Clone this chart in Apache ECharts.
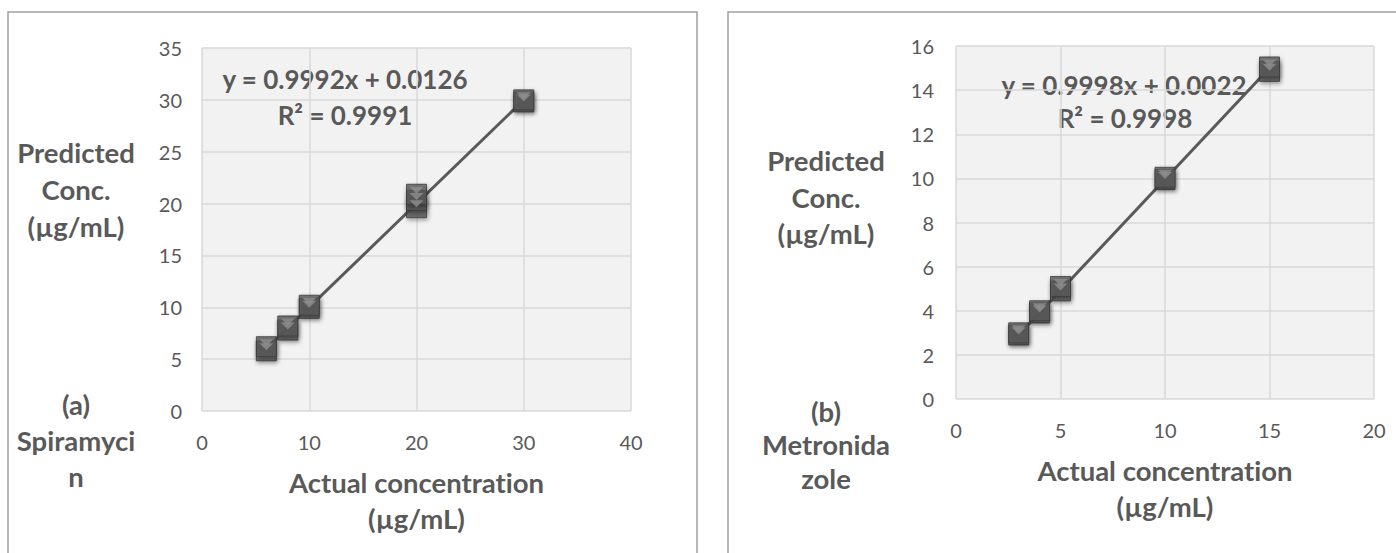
<!DOCTYPE html>
<html>
<head>
<meta charset="utf-8">
<script src="https://cdn.jsdelivr.net/npm/echarts@6/dist/echarts.min.js"></script>
<style>
html,body{margin:0;padding:0;background:#fff;}
#chart{width:1396px;height:553px;}
#chart text, #chart svg{font-variant-ligatures:none; font-feature-settings:"liga" 0, "clig" 0;}
</style>
</head>
<body>
<div id="chart"></div>
<script>
// ---- data ----
const spiraActual    = [6, 6, 8, 8, 10, 10, 20, 20, 20, 30, 30];
const spiraPredicted = [5.8, 6.2, 7.8, 8.2, 9.9, 10.2, 19.6, 20.3, 20.9, 29.8, 30.0];
const spiraTrendX = [6, 30];
const spiraTrendY = [6.008, 29.989];
const spiraEquation = ['y = 0.9992x + 0.0126', 'R² = 0.9991'];

const metroActual    = [3, 3, 4, 4, 5, 5, 10, 10, 15, 15];
const metroPredicted = [2.9, 3.0, 3.9, 4.0, 4.9, 5.1, 9.95, 10.05, 14.85, 15.05];
const metroTrendX = [3, 15];
const metroTrendY = [2.902, 14.999];
const metroEquation = ['y = 0.9998x + 0.0022', 'R² = 0.9998'];

const yTitle = ['Predicted', 'Conc.', '(µg/mL)'];
const xTitle = 'Actual concentration\n(µg/mL)';
const panelA = ['(a)', 'Spiramyci', 'n'];
const panelB = ['(b)', 'Metronida', 'zole'];

// ---- styles ----
const FONT = 'Lato, "Open Sans", sans-serif';
const TXT = '#595959';
const zip = (a, b) => a.map((v, i) => [v, b[i]]);

function axisCommon(min, max, interval) {
  return {
    type: 'value', min: min, max: max, interval: interval,
    axisLine: {show: false}, axisTick: {show: false},
    splitLine: {show: true, lineStyle: {color: '#d9d9d9', width: 1.5}},
    axisLabel: {color: TXT, fontFamily: FONT, fontSize: 20}
  };
}

function markerSeries(idx, data) {
  return [
    {
      type: 'scatter', xAxisIndex: idx, yAxisIndex: idx, data: data,
      symbol: 'rect', symbolSize: 20, z: 3,
      itemStyle: {color: '#585858', borderColor: '#3c3c3c', borderWidth: 1,
        shadowBlur: 4, shadowColor: 'rgba(0,0,0,0.45)', shadowOffsetX: 1, shadowOffsetY: 2}
    },
    {
      type: 'scatter', xAxisIndex: idx, yAxisIndex: idx, data: data,
      symbol: 'triangle', symbolRotate: 180, symbolSize: [14, 7], symbolOffset: [0, -4], z: 4,
      itemStyle: {color: '#8e8e8e'}, silent: true
    }
  ];
}

function trendSeries(idx, xs, ys) {
  return {
    type: 'line', xAxisIndex: idx, yAxisIndex: idx, data: zip(xs, ys),
    symbol: 'none', z: 2, lineStyle: {color: '#595959', width: 3}
  };
}

function textAt(t, cx, cy, size) {
  return {
    type: 'text', x: cx, y: cy,
    style: {text: t, fill: TXT, font: 'bold ' + size + 'px ' + FONT, align: 'center', verticalAlign: 'middle'}
  };
}

const graphics = [
  {type: 'rect', shape: {x: 8, y: 12, width: 689, height: 600},
    style: {fill: 'none', stroke: '#a0a0a0', lineWidth: 1.5}, z: -1},
  {type: 'rect', shape: {x: 728, y: 12, width: 700, height: 600},
    style: {fill: 'none', stroke: '#a0a0a0', lineWidth: 1.5}, z: -1}
];
const yA_ys = [152, 189, 226], pA_ys = [404, 440, 476];
const yB_ys = [160, 197, 233], pB_ys = [411, 444, 478];
yTitle.forEach((t, i) => graphics.push(textAt(t, 76, yA_ys[i], 27.5)));
panelA.forEach((t, i) => graphics.push(textAt(t, 76, pA_ys[i], 27.5)));
yTitle.forEach((t, i) => graphics.push(textAt(t, 826, yB_ys[i], 27.5)));
panelB.forEach((t, i) => graphics.push(textAt(t, 826, pB_ys[i], 27.5)));
graphics.push(textAt(spiraEquation[0], 345, 79, 26));
graphics.push(textAt(spiraEquation[1], 345, 115, 26));
graphics.push(textAt(metroEquation[0], 1124, 85, 26));
graphics.push(textAt(metroEquation[1], 1125, 118, 26));

const xA = axisCommon(0, 40, 10);
const xB = axisCommon(0, 20, 5);
[xA, xB].forEach(a => {
  a.gridIndex = a === xA ? 0 : 1;
  a.axisLabel.margin = 21;
  a.name = xTitle;
  a.nameLocation = 'middle';
  a.nameGap = 53;
  a.nameTextStyle = {color: TXT, fontFamily: FONT, fontWeight: 'bold', fontSize: 27.5, lineHeight: 36};
});
const yA = axisCommon(0, 35, 5); yA.gridIndex = 0; yA.axisLabel.margin = 20;
const yB = axisCommon(0, 16, 2); yB.gridIndex = 1; yB.axisLabel.margin = 22;

const option = {
  backgroundColor: '#ffffff',
  animation: false,
  grid: [
    {left: 202, top: 48, width: 429, height: 363, show: true, backgroundColor: '#f2f2f2', borderWidth: 0},
    {left: 956, top: 46, width: 418, height: 353, show: true, backgroundColor: '#f2f2f2', borderWidth: 0}
  ],
  xAxis: [xA, xB],
  yAxis: [yA, yB],
  series: [
    trendSeries(0, spiraTrendX, spiraTrendY),
    ...markerSeries(0, zip(spiraActual, spiraPredicted)),
    trendSeries(1, metroTrendX, metroTrendY),
    ...markerSeries(1, zip(metroActual, metroPredicted))
  ],
  graphic: graphics
};

const chart = echarts.init(document.getElementById('chart'), null, {renderer: 'svg'});
chart.setOption(option);
</script>
</body>
</html>
